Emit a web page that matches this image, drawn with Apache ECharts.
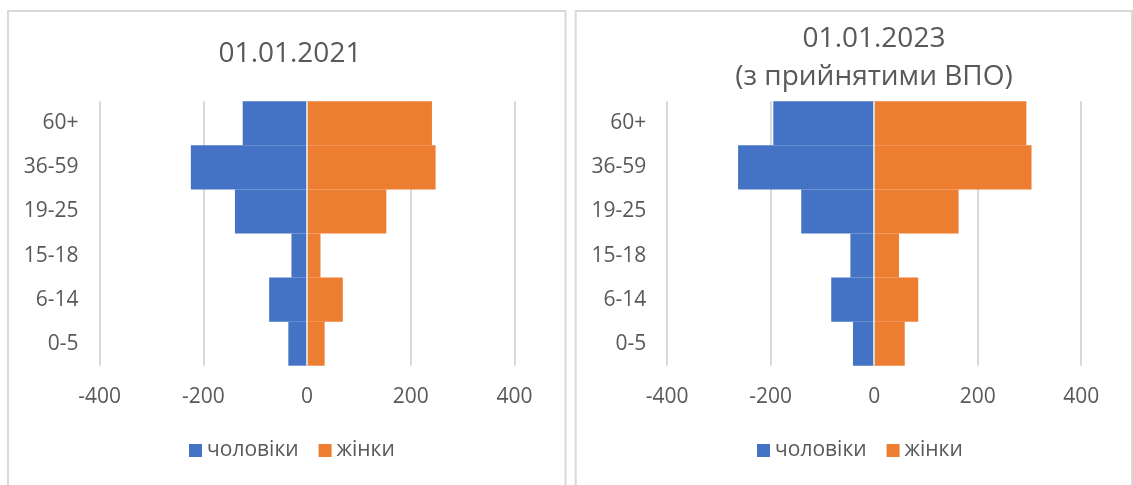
<!DOCTYPE html>
<html>
<head>
<meta charset="utf-8">
<script src="https://cdn.jsdelivr.net/npm/echarts@6/dist/echarts.min.js"></script>
<style>
  html, body { margin: 0; padding: 0; background: #fff; }
  #chart { width: 1133px; height: 485px; }
</style>
</head>
<body>
<div id="chart"></div>
<script>
// Age groups (bottom to top)
const categories = ['0-5', '6-14', '15-18', '19-25', '36-59', '60+'];
// 01.01.2021
const men2021 = [-36, -73, -30, -139, -224, -124];
const women2021 = [34, 69, 26, 153, 248, 241];
// 01.01.2023 (з прийнятими ВПО)
const men2023 = [-41, -83, -46, -141, -263, -195];
const women2023 = [59, 85, 48, 163, 304, 294];
// Value axis ticks
const axisMin = -400, axisMax = 400, axisStep = 200;
const seriesNames = ['чоловіки', 'жінки'];
const titles = ['01.01.2021', '01.01.2023\n(з прийнятими ВПО)'];

const FONT = 'Open Sans';
const TXT = '#595959';
const GRID = '#d9d9d9';
const BLUE = '#4472C4';
const ORANGE = '#ED7D31';

const chart = echarts.init(document.getElementById('chart'), null, { renderer: 'canvas' });

function xAx(i) {
  return {
    type: 'value', gridIndex: i, min: axisMin, max: axisMax, interval: axisStep,
    axisLine: { show: false }, axisTick: { show: false },
    splitLine: { show: true, lineStyle: { color: GRID, width: 2 } },
    axisLabel: { color: TXT, fontFamily: FONT, fontSize: 21, margin: 21 }
  };
}
function yAx(i) {
  return {
    type: 'category', gridIndex: i, data: categories,
    axisLine: { show: false }, axisTick: { show: false },
    axisLabel: { color: TXT, fontFamily: FONT, fontSize: 21, margin: 21 }
  };
}
const zeroLine = {
  silent: true, symbol: 'none', label: { show: false },
  lineStyle: { color: GRID, width: 2, type: 'solid' },
  data: [{ xAxis: 0 }], animation: false
};
function bar(name, data, idx, color, withZero) {
  const s = {
    name, type: 'bar', xAxisIndex: idx, yAxisIndex: idx, stack: 'p' + idx,
    data, barCategoryGap: '0%', itemStyle: { color },
    emphasis: { disabled: true }
  };
  if (withZero) s.markLine = zeroLine;
  return s;
}

const option = {
  animation: false,
  backgroundColor: '#fff',
  graphic: [
    { type: 'rect', shape: { x: 8, y: 11, width: 557.5, height: 500 }, style: { fill: 'none', stroke: GRID, lineWidth: 2 }, silent: true },
    { type: 'rect', shape: { x: 575.7, y: 11, width: 556.3, height: 500 }, style: { fill: 'none', stroke: GRID, lineWidth: 2 }, silent: true }
  ],
  title: [
    { text: titles[0], left: 285, top: 35, textAlign: 'center',
      textStyle: { color: TXT, fontFamily: FONT, fontSize: 28, fontWeight: 'normal' } },
    { text: titles[1], left: 869, top: 15, textAlign: 'center',
      textStyle: { color: TXT, fontFamily: FONT, fontSize: 28, fontWeight: 'normal', lineHeight: 38 } }
  ],
  legend: [
    { data: seriesNames, left: 189, top: 440, padding: 0, icon: 'rect', itemWidth: 13, itemHeight: 13, itemGap: 20,
      textStyle: { color: TXT, fontFamily: FONT, fontSize: 21 } },
    { data: seriesNames, left: 757, top: 440, padding: 0, icon: 'rect', itemWidth: 13, itemHeight: 13, itemGap: 20,
      textStyle: { color: TXT, fontFamily: FONT, fontSize: 21 } }
  ],
  grid: [
    { left: 99.6, width: 414.8, top: 101.3, height: 264.4 },
    { left: 667.2, width: 414, top: 101.3, height: 264.4 }
  ],
  xAxis: [xAx(0), xAx(1)],
  yAxis: [yAx(0), yAx(1)],
  series: [
    bar(seriesNames[0], men2021, 0, BLUE, false),
    bar(seriesNames[1], women2021, 0, ORANGE, true),
    bar(seriesNames[0], men2023, 1, BLUE, false),
    bar(seriesNames[1], women2023, 1, ORANGE, true)
  ]
};
chart.setOption(option);
</script>
</body>
</html>
